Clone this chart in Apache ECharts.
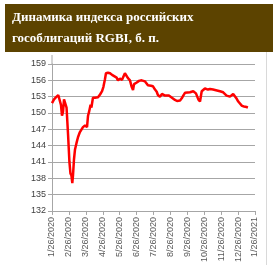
<!DOCTYPE html>
<html>
<head>
<meta charset="utf-8">
<script src="https://cdn.jsdelivr.net/npm/echarts@6/dist/echarts.min.js"></script>
<style>
html, body { margin: 0; padding: 0; background: #fff; }
#main { width: 279px; height: 265px; }
</style>
</head>
<body>
<div id="main"></div>
<script>
// tick labels on the x axis, one per month
var tickLabels = ['1/26/2020', '2/26/2020', '3/26/2020', '4/26/2020', '5/26/2020', '6/26/2020',
	'7/26/2020', '8/26/2020', '9/26/2020', '10/26/2020', '11/26/2020', '12/26/2020', '1/26/2021'];

// position in months since 1/26/2020
var monthPos = [0, 0.12, 0.24, 0.37, 0.47, 0.53, 0.59, 0.65, 0.71, 0.80, 0.86, 0.95, 1.03, 1.09, 1.15, 1.20,
	1.24, 1.30, 1.36, 1.45, 1.54, 1.60, 1.65, 1.74, 1.83, 1.95, 2.07, 2.13, 2.19, 2.28, 2.33, 2.42,
	2.54, 2.72, 2.84, 2.96, 3.04, 3.13, 3.19, 3.31, 3.43, 3.55, 3.66, 3.82, 3.90, 4.02, 4.14, 4.31,
	4.49, 4.61, 4.71, 4.79, 4.85, 5.01, 5.14, 5.30, 5.50, 5.67, 5.85, 5.97, 6.09, 6.19, 6.26, 6.38,
	6.50, 6.58, 6.68, 6.78, 6.91, 7.09, 7.27, 7.39, 7.46, 7.57, 7.67, 7.76, 7.86, 7.96, 8.16, 8.35,
	8.51, 8.65, 8.75, 8.85, 9.04, 9.22, 9.34, 9.52, 9.63, 9.81, 9.93, 10.12, 10.32, 10.52, 10.71, 10.82,
	10.92, 11.01, 11.11, 11.23, 11.35, 11.41, 11.50, 11.58];

// RGBI index values
var rgbi = [151.8, 152.5, 152.9, 153.3, 153.0, 151.5, 149.5, 150.2, 152.5, 152.8, 151.0, 146.0, 141.0, 138.9, 138.5, 137.1,
	138.5, 141.5, 143.3, 144.5, 145.6, 145.5, 146.5, 146.8, 147.4, 147.7, 147.4, 149.5, 150.2, 151.5, 151.0, 152.8,
	152.8, 152.9, 153.4, 154.0, 154.8, 156.2, 157.3, 157.4, 157.3, 157.0, 157.2, 156.5, 156.0, 156.3, 156.1, 157.3,
	156.4, 156.0, 154.8, 154.2, 155.3, 155.6, 155.9, 156.0, 155.8, 155.1, 155.0, 154.9, 154.3, 153.9, 153.3, 153.0,
	153.5, 153.6, 153.2, 153.0, 153.2, 152.8, 152.4, 152.2, 152.1, 152.3, 152.7, 153.2, 153.7, 154.0, 153.8, 154.0,
	153.6, 152.5, 152.1, 154.0, 154.5, 154.3, 154.4, 154.3, 154.2, 154.1, 154.0, 153.8, 153.2, 153.0, 153.5, 153.2,
	152.6, 152.1, 152.0, 151.3, 151.2, 150.9, 151.1, 151.0];

var chart = echarts.init(document.getElementById('main'), null, {renderer: 'canvas'});

var seriesData = [];
for(var i = 0; i < rgbi.length; i++) {
	seriesData.push([monthPos[i], rgbi[i]]);
}

var option = {
	animation: false,
	title: {
		text: 'Динамика индекса российских\nгособлигаций RGBI, б. п.',
		left: 5,
		top: 4,
		padding: [3, 7, 3, 7],
		backgroundColor: '#5c4300',
		textStyle: {
			color: '#ffffff',
			fontFamily: 'Liberation Serif',
			fontWeight: 'bold',
			fontSize: 13,
			lineHeight: 21,
			width: 254
		}
	},
	graphic: [{
		type: 'line',
		shape: {x1: 266.5, y1: 52, x2: 266.5, y2: 265},
		style: {stroke: '#d9d9d9', lineWidth: 1}
	}, {
		type: 'line',
		shape: {x1: 52, y1: 55, x2: 52, y2: 64},
		style: {stroke: '#a6a6a6', lineWidth: 1}
	}],
	grid: {
		left: 52,
		right: 24,
		top: 64,
		bottom: 49
	},
	xAxis: {
		type: 'value',
		min: 0,
		max: 12,
		interval: 1,
		axisLine: {lineStyle: {color: '#a6a6a6'}},
		axisTick: {show: true, length: 4, lineStyle: {color: '#a6a6a6'}},
		splitLine: {show: false},
		axisLabel: {
			rotate: 90,
			margin: 6,
			fontSize: 9,
			fontFamily: 'Liberation Sans',
			color: '#595959',
			formatter: function(v) {
				return tickLabels[Math.round(v)];
			}
		}
	},
	yAxis: {
		type: 'value',
		min: 132,
		max: 159,
		interval: 3,
		axisLine: {show: true, lineStyle: {color: '#a6a6a6'}},
		axisTick: {show: true, length: 4, lineStyle: {color: '#a6a6a6'}},
		splitLine: {lineStyle: {color: '#a6a6a6', width: 1}},
		axisLabel: {
			margin: 6,
			fontSize: 9,
			fontFamily: 'Liberation Sans',
			color: '#404040'
		}
	},
	series: [{
		type: 'line',
		data: seriesData,
		symbol: 'none',
		lineStyle: {color: '#ff0000', width: 2.5},
		itemStyle: {color: '#ff0000'}
	}]
};

chart.setOption(option);
</script>
</body>
</html>
